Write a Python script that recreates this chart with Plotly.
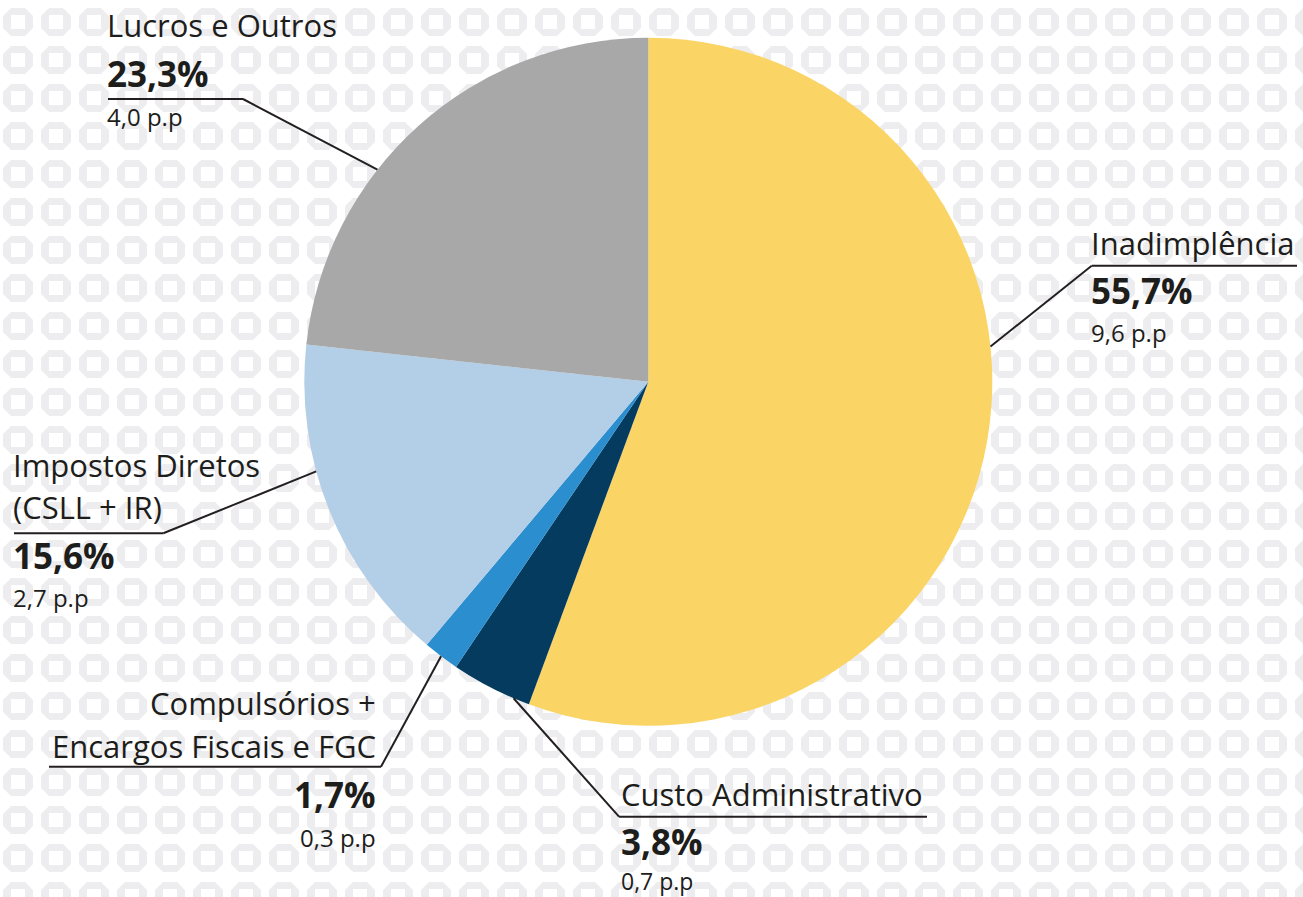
import math
import base64
import plotly.graph_objects as go

# ---------------- data ----------------
labels = ["Inadimplência", "Custo Administrativo",
          "Compulsórios + Encargos Fiscais e FGC",
          "Impostos Diretos (CSLL + IR)", "Lucros e Outros"]
label_lines = [["Inadimplência"], ["Custo Administrativo"],
               ["Compulsórios +", "Encargos Fiscais e FGC"],
               ["Impostos Diretos", "(CSLL + IR)"], ["Lucros e Outros"]]
shares = [55.7, 3.8, 1.7, 15.6, 23.3]          # %
pp_values = [9.6, 0.7, 0.3, 2.7, 4.0]         # p.p
colors = ["#FAD464", "#043B5F", "#2B8FCF", "#B3CEE7", "#A7A8A7"]

# ---------------- geometry ----------------
W, H = 1303, 897
CX, CY, R = 648.3, 381.7, 344.0

def px(x):
    return x / W

def py(y):
    return 1 - y / H

def br(v):
    return f"{v:.1f}".replace(".", ",")

# label layout: (fraction inside slice for leader start, elbow, line end x,
#                text x, xanchor, title line centres, bold centre, small centre,
#                small font size)
label_cfg = [
    (0.42, (1091.7, 265.7), 1297, 1089, "left", [243], 290.5, 332, 24),
    (0.20, (619.0, 816.7), 927, 619, "left", [794], 841, 881, 23),
    (0.50, (381.0, 766.7), 49, 378, "right", [703, 746], 794.5, 837.5, 24),
    (0.62, (163.3, 533.3), 14, 11, "left", [465, 507], 555.5, 597.5, 24),
    (0.38, (243.0, 99.0), 108, 105, "left", [25.5], 74, 116, 24),
]

FONT = "Open Sans"
TXT = "#1d1d1b"

fig = go.Figure()
fig.add_trace(go.Pie(
    labels=labels, values=shares, sort=False, direction="clockwise",
    rotation=0, marker=dict(colors=colors, line=dict(width=0)),
    textinfo="none", hoverinfo="label+percent", showlegend=False,
    domain=dict(x=[px(CX - R), px(CX + R)], y=[py(CY + R), py(CY - R)]),
))

total = sum(shares)
cum = 0.0
shapes = []
annotations = []
for i, v in enumerate(shares):
    frac, (ex, ey), endx, tx, xa, title_ys, bold_y, small_y, small_sz = label_cfg[i]
    ang = 360.0 * (cum + frac * v) / total
    cum += v
    sx = CX + R * math.sin(math.radians(ang))
    sy = CY - R * math.cos(math.radians(ang))
    shapes.append(dict(type="line", xref="paper", yref="paper",
                       x0=px(sx), y0=py(sy), x1=px(ex), y1=py(ey),
                       line=dict(color="#231f20", width=2)))
    shapes.append(dict(type="line", xref="paper", yref="paper",
                       x0=px(ex), y0=py(ey), x1=px(endx), y1=py(ey),
                       line=dict(color="#231f20", width=2)))
    for line_txt, ly in zip(label_lines[i], title_ys):
        annotations.append(dict(xref="paper", yref="paper", x=px(tx), y=py(ly),
                                xanchor=xa, yanchor="middle", showarrow=False,
                                text=line_txt,
                                font=dict(family=FONT, size=31, color=TXT)))
    annotations.append(dict(xref="paper", yref="paper", x=px(tx), y=py(bold_y),
                            xanchor=xa, yanchor="middle", showarrow=False,
                            text=f"<b>{br(v)}%</b>",
                            font=dict(family=FONT, size=35, color=TXT)))
    annotations.append(dict(xref="paper", yref="paper", x=px(tx), y=py(small_y),
                            xanchor=xa, yanchor="middle", showarrow=False,
                            text=f"{br(pp_values[i])} p.p",
                            font=dict(family=FONT, size=small_sz, color=TXT)))

# decorative tiled background
tile = ("M8,0 L22,0 L30,8 L30,20 L22,28 L8,28 L0,20 L0,8 Z "
        "M8,7 L22,7 L22,21 L8,21 Z")
svg = (f'<svg xmlns="http://www.w3.org/2000/svg" width="{W}" height="{H}" '
       f'viewBox="0 0 {W} {H}" preserveAspectRatio="none">'
       '<defs><pattern id="p" x="3" y="8" width="38" height="38" '
       'patternUnits="userSpaceOnUse">'
       f'<path d="{tile}" fill="#ededf0" fill-rule="evenodd"/></pattern></defs>'
       f'<rect width="{W}" height="{H}" fill="#ffffff"/>'
       f'<rect width="{W}" height="{H}" fill="url(#p)"/></svg>')
uri = "data:image/svg+xml;base64," + base64.b64encode(svg.encode()).decode()

fig.update_layout(
    width=W, height=H, margin=dict(l=0, r=0, t=0, b=0),
    paper_bgcolor="#ffffff", plot_bgcolor="#ffffff",
    shapes=shapes, annotations=annotations,
    images=[dict(source=uri, xref="paper", yref="paper", x=0, y=1,
                 sizex=1, sizey=1, sizing="stretch", layer="below",
                 xanchor="left", yanchor="top")],
)
fig.write_html("out.html", config={"displayModeBar": False},
               post_script="document.body.style.margin='0px';"
                           "document.body.style.overflow='hidden';")
